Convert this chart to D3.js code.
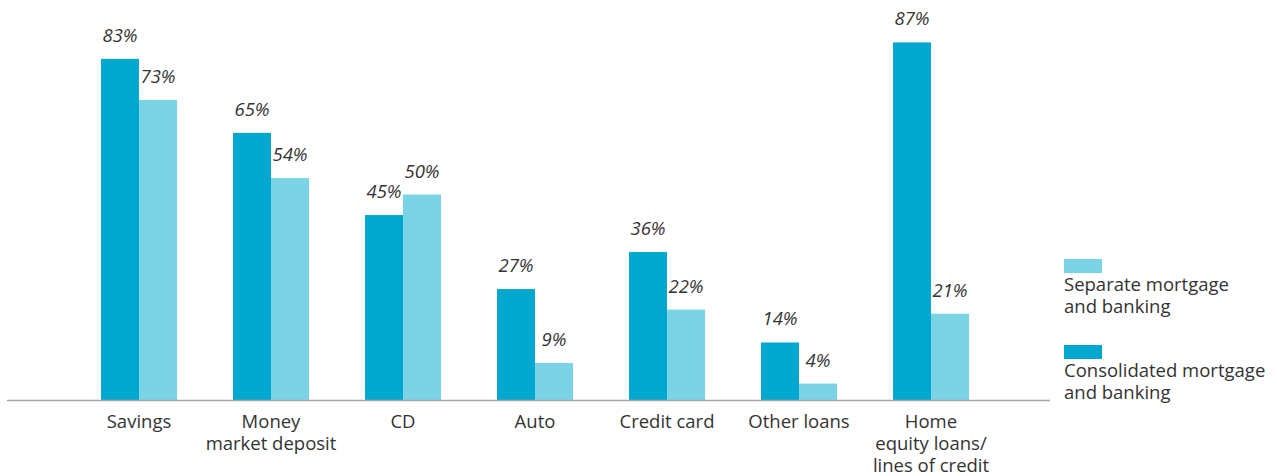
<!DOCTYPE html>
<html>
<head>
<meta charset="utf-8">
<script src="https://cdn.jsdelivr.net/npm/d3@7"></script>
<style>
  html, body { margin: 0; padding: 0; background: #fff; }
  svg text { font-family: "Open Sans", "Noto Sans", sans-serif; fill: #333; }
</style>
</head>
<body>
<svg id="chart" width="1277" height="476"></svg>
<script>
// Product categories (multi-line labels split on "\n")
const categories = [
  "Savings",
  "Money\nmarket deposit",
  "CD",
  "Auto",
  "Credit card",
  "Other loans",
  "Home\nequity loans/\nlines of credit"
];
const seriesNames = ["Consolidated mortgage and banking", "Separate mortgage and banking"];
const consolidated = [83, 65, 45, 27, 36, 14, 87];
const separate = [73, 54, 50, 9, 22, 4, 21];

const colors = { consolidated: "#00a8cf", separate: "#7ad4e6" };

const svg = d3.select("#chart");
const baseY = 400;
const barW = 38;

// Each pair of bars is centred on its category point
const groupX = d3.scalePoint().domain(categories).range([139, 931]);
const y = d3.scaleLinear().domain([0, 100]).range([baseY, baseY - 411]);

const rows = categories.map((c, i) => ({ cat: c, cons: consolidated[i], sep: separate[i] }));

const g = svg.append("g");

// Consolidated bars (left of pair)
g.selectAll("rect.cons").data(rows).join("rect")
  .attr("class", "cons")
  .attr("x", d => groupX(d.cat) - barW)
  .attr("y", d => y(d.cons))
  .attr("width", barW)
  .attr("height", d => baseY - y(d.cons))
  .attr("fill", colors.consolidated);

// Separate bars (right of pair)
g.selectAll("rect.sep").data(rows).join("rect")
  .attr("class", "sep")
  .attr("x", d => groupX(d.cat))
  .attr("y", d => y(d.sep))
  .attr("width", barW)
  .attr("height", d => baseY - y(d.sep))
  .attr("fill", colors.separate);

// Value labels
const labelStyle = sel => sel
  .attr("text-anchor", "middle")
  .attr("font-size", "18.5px")
  .attr("font-style", "italic");

g.selectAll("text.vcons").data(rows).join("text")
  .attr("class", "vcons")
  .attr("x", d => groupX(d.cat) - barW / 2)
  .attr("y", d => y(d.cons) - 17)
  .call(labelStyle)
  .text(d => d.cons + "%");

g.selectAll("text.vsep").data(rows).join("text")
  .attr("class", "vsep")
  .attr("x", d => groupX(d.cat) + barW / 2)
  .attr("y", d => y(d.sep) - 17)
  .call(labelStyle)
  .text(d => d.sep + "%");

// Baseline axis
svg.append("line")
  .attr("x1", 7).attr("x2", 1050)
  .attr("y1", baseY + 0.5).attr("y2", baseY + 0.5)
  .attr("stroke", "#a6a6a6")
  .attr("stroke-width", 1.5);

// Category labels
const catText = svg.selectAll("text.cat").data(categories).join("text")
  .attr("class", "cat")
  .attr("text-anchor", "middle")
  .attr("font-size", "18.5px")
  .attr("x", d => groupX(d))
  .attr("y", 428);
catText.each(function(d) {
  const t = d3.select(this);
  d.split("\n").forEach((line, i) => {
    t.append("tspan").attr("x", groupX(d)).attr("dy", i === 0 ? 0 : 22).text(line);
  });
});

// Legend
const legend = [
  { name: seriesNames[1], color: colors.separate, y: 259 },
  { name: seriesNames[0], color: colors.consolidated, y: 345 }
];
const lg = svg.selectAll("g.legend").data(legend).join("g")
  .attr("class", "legend")
  .attr("transform", d => `translate(1064,${d.y})`);
lg.append("rect").attr("width", 38).attr("height", 14).attr("fill", d => d.color);
lg.append("text")
  .attr("font-size", "18.5px")
  .attr("y", 32)
  .each(function(d) {
    const t = d3.select(this);
    const words = d.name.split(" ");
    const first = words.slice(0, words.length - 2).join(" ");
    const second = words.slice(-2).join(" ");
    t.append("tspan").attr("x", 0).attr("dy", 0).text(first);
    t.append("tspan").attr("x", 0).attr("dy", 22).text(second);
  });
</script>
</body>
</html>
